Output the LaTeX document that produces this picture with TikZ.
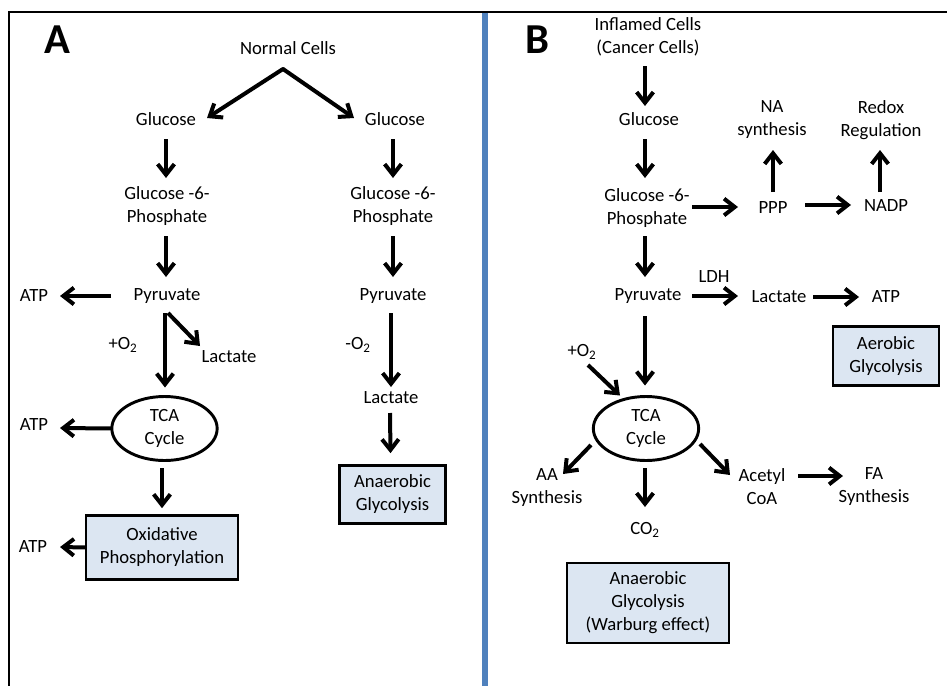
\documentclass[tikz,border=0pt]{standalone}
\usepackage{fontspec}
\setmainfont{Carlito}
\usetikzlibrary{arrows.meta,calc,shapes.geometric}
\definecolor{boxblue}{RGB}{220,230,242}
\definecolor{divblue}{RGB}{79,129,189}
\begin{document}
\begin{tikzpicture}[x=0.75pt,y=-0.75pt,
  txt/.style={inner sep=0pt,outer sep=0pt,align=center,font=\fontsize{14}{17.25}\selectfont},
  lett/.style={inner sep=0pt,font=\fontsize{32}{36}\selectfont\bfseries},
  arr/.style={line width=3pt,-{Straight Barb[length=8pt,width=12.5pt]}},
  pbox/.style={txt,draw,line width=2.2pt,fill=boxblue},
  tca/.style={txt,draw,ellipse,line width=2.2pt,minimum width=79pt,minimum height=48pt}]
\path[use as bounding box] (0,0) rectangle (947,686);
% frame
\draw[line width=1.6pt] (8,12) -- (947,12);
\draw[line width=1.6pt] (9,12) -- (9,686);
\draw[line width=4.5pt,divblue] (485,13) -- (485,686);

% ---------------- Panel A ----------------
\node[lett] (lA) at (57,40) {A};
\node[txt] (nc) at (288,48) {Normal Cells};
\node[txt] (gl1) at (166,119) {Glucose};
\node[txt] (gl2) at (395,119) {Glucose};
\node[txt] (g6p1) at (167,206) {Glucose -6-\\Phosphate};
\node[txt] (g6p2) at (393,206) {Glucose -6-\\Phosphate};
\node[txt] (pyr1) at (167,296) {Pyruvate};
\node[txt] (pyr2) at (393,296) {Pyruvate};
\node[txt] (atp1) at (34,296) {ATP};
\node[txt] (o2a) at (123,345) {+O\textsubscript{2}};
\node[txt] (lac1) at (229,357) {Lactate};
\node[txt] (mo2) at (358,345) {-O\textsubscript{2}};
\node[txt] (lac2) at (391,398) {Lactate};
\node[tca] (tca1) at (164.5,428.5) {TCA\\Cycle};
\node[txt] (atp2) at (34,425) {ATP};
\node[pbox,minimum width=114pt,minimum height=48.5pt] (ox) at (162,547.5) {Oxidative\\Phosphorylation};
\node[txt] (atp3) at (33,547) {ATP};
\node[pbox,minimum width=79pt,minimum height=44pt] (an1) at (392.5,494.5) {Anaerobic\\Glycolysis};

\draw[arr,line cap=round,line join=miter] ($(nc)+(-5,21)$) -- ($(gl1)+(41,-1)$);
\draw[arr] ($(nc)+(-5,21)$) -- ($(gl2)+(-41,-1)$);
\draw[arr] ($(gl1)+(0,20)$) -- ($(g6p1)+(-1,-28)$);
\draw[arr] ($(gl2)+(-2,20)$) -- ($(g6p2)+(0,-28)$);
\draw[arr] ($(g6p1)+(-1,30)$) -- ($(pyr1)+(-1,-19)$);
\draw[arr] ($(g6p2)+(0,30)$) -- ($(pyr2)+(0,-19)$);
\draw[arr] ($(pyr1)+(-56,0)$) -- ($(atp1)+(26,0)$);
\draw[arr] ($(pyr1)+(-2,17)$) -- ($(tca1)+(0.5,-41)$);
\draw[arr] ($(pyr1)+(1,17)$) -- ($(lac1)+(-29,-11)$);
\draw[arr] (tca1.west) -- ($(atp2)+(26,3)$);
\draw[arr] ($(tca1)+(-2.5,39.5)$) -- ($(ox.north)+(0,-7)$);
\draw[arr] (ox.west) -- ($(atp3)+(27,0)$);
\draw[arr] ($(pyr2)+(-2,17)$) -- ($(lac2)+(0,-11)$);
\draw[arr] ($(lac2)+(-1,15)$) -- ($(an1.north)+(-2,-12)$);

% ---------------- Panel B ----------------
\node[lett] (lB) at (537,40) {B};
\node[txt] (inf) at (648,37) {Inflamed Cells\\(Cancer Cells)};
\node[txt] (gl3) at (649,119) {Glucose};
\node[txt] (g6p3) at (647,208) {Glucose -6-\\Phosphate};
\node[txt] (ppp) at (773,208) {PPP};
\node[txt] (na) at (772,120) {NA\\synthesis};
\node[txt] (nadp) at (886,206) {NADP};
\node[txt] (redox) at (881,120) {Redox\\Regulation};
\node[txt] (pyr3) at (648,296) {Pyruvate};
\node[txt] (ldh) at (714,277) {LDH};
\node[txt] (lac3) at (779,297) {Lactate};
\node[txt] (atp4) at (886,297) {ATP};
\node[pbox,minimum width=79.5pt,minimum height=44pt] (aer) at (886,356) {Aerobic\\Glycolysis};
\node[txt] (o2b) at (582,352) {+O\textsubscript{2}};
\node[tca] (tca2) at (646,428.5) {TCA\\Cycle};
\node[txt] (aa) at (547,488) {AA\\Synthesis};
\node[txt] (co2) at (645,530) {CO\textsubscript{2}};
\node[txt] (acoa) at (762,487) {Acetyl\\CoA};
\node[txt] (fa) at (874,487) {FA\\Synthesis};
\node[pbox,minimum width=121.5pt,minimum height=60pt] (an2) at (648,603) {Anaerobic\\Glycolysis\\(Warburg effect)};

\draw[arr] ($(inf)+(-3,29)$) -- ($(gl3)+(-4,-13)$);
\draw[arr] ($(gl3)+(-4,20)$) -- ($(g6p3)+(-2,-30)$);
\draw[arr] ($(g6p3)+(45,-1)$) -- ($(ppp)+(-35,-1)$);
\draw[arr] ($(ppp)+(0,-16)$) -- ($(na)+(1,30)$);
\draw[arr] ($(ppp)+(32,-3)$) -- ($(nadp)+(-35,-1)$);
\draw[arr] ($(nadp)+(-6,-14)$) -- ($(redox)+(-1,30)$);
\draw[arr] ($(g6p3)+(-2,28)$) -- ($(pyr3)+(-3,-19)$);
\draw[arr] ($(pyr3)+(44,0)$) -- ($(lac3)+(-41,-1)$);
\draw[arr] ($(lac3)+(34,0)$) -- ($(atp4)+(-27,0)$);
\draw[arr] ($(pyr3)+(-3,20)$) -- ($(tca2)+(-1,-43)$);
\draw[arr] ($(o2b)+(6,13)$) -- ($(tca2)+(-26,-33)$);
\draw[arr] ($(tca2)+(-55,16.5)$) -- ($(aa)+(16,-14)$);
\draw[arr] ($(tca2)+(-1,39.5)$) -- ($(co2)+(0,-23)$);
\draw[arr] ($(tca2)+(54,15.5)$) -- ($(acoa)+(-32,-12)$);
\draw[arr] ($(acoa)+(36,-11)$) -- ($(fa)+(-31,-11)$);
\end{tikzpicture}
\end{document}
